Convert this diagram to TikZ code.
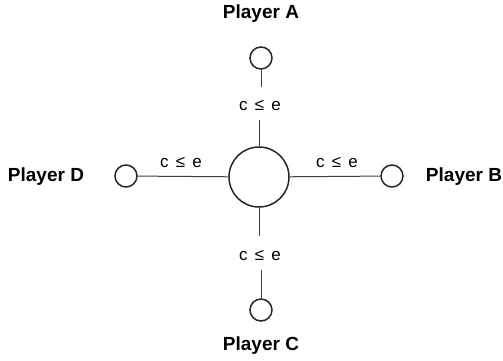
\documentclass[tikz,border=0pt]{standalone}
\usepackage{fontspec}
\setmainfont{Liberation Sans}
\begin{document}
\begin{tikzpicture}[x=1pt,y=-1pt,
  big/.style={circle,draw=black!85,line width=1.5pt,minimum size=60pt,inner sep=0pt},
  small/.style={circle,draw=black!85,line width=1.5pt,minimum size=22pt,inner sep=0pt},
  player/.style={font=\fontsize{19}{22}\selectfont\bfseries,inner sep=0pt},
  lab/.style={font=\fontsize{17}{20}\selectfont,inner sep=0pt},
  conn/.style={draw=black!75,line width=1pt}]
\useasboundingbox (0,0) rectangle (503,360);
\node[big] (hub) at (259,177) {};
\node[small] (a) at (261,58) {};
\node[small] (b) at (392,176) {};
\node[small] (c) at (261,310) {};
\node[small] (d) at (126,176) {};
\node[player] (pa) at (261,14) {Player A};
\node[player] (pb) at (464,177) {Player B};
\node[player] (pc) at (261,346) {Player C};
\node[player] (pd) at (46,177) {Player D};
\node[lab] (la) at (260,105) {c\hspace{0.15em} ≤ \hspace{0.15em}e};
\node[lab] (lb) at (337,162) {c\hspace{0.15em} ≤ \hspace{0.15em}e};
\node[lab] (lc) at (260,255) {c\hspace{0.15em} ≤ \hspace{0.15em}e};
\node[lab] (ld) at (181,162) {c\hspace{0.15em} ≤ \hspace{0.15em}e};
\coordinate (la1) at (260,87);
\coordinate (la2) at (260,120);
\coordinate (lc1) at (260,236);
\coordinate (lc2) at (260,270);
\draw[conn] (a) -- (a|-la1);
\draw[conn] (hub|-la2) -- (hub);
\draw[conn] (hub) -- (hub|-lc1);
\draw[conn] (c|-lc2) -- (c);
\draw[conn] (hub) -- (b);
\draw[conn] (hub) -- (d);
\end{tikzpicture}
\end{document}
